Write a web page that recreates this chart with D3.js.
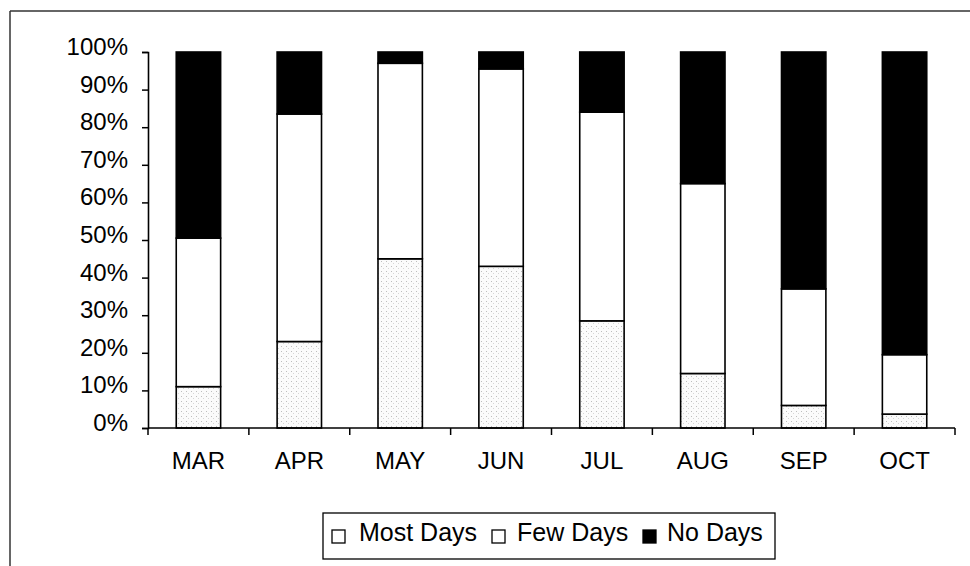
<!DOCTYPE html>
<html><head><meta charset="utf-8">
<script src="https://cdn.jsdelivr.net/npm/d3@7"></script>
<style>body{margin:0;background:#fff}svg{display:block}text{font-family:"Liberation Sans",Arial,sans-serif;fill:#000}</style>
</head><body><svg id="c" width="970" height="566"></svg>
<script>
const months = ["MAR","APR","MAY","JUN","JUL","AUG","SEP","OCT"];
const seriesNames = ["Most Days","Few Days","No Days"];
const mostDays = [11, 23, 45, 43, 28.5, 14.5, 6, 3.7];
const fewDays  = [39.5, 60.5, 52, 52.5, 55.5, 50.5, 31, 15.8];
const noDays   = [49.5, 16.5, 3, 4.5, 16, 35, 63, 80.5];
const yTicks = [0,10,20,30,40,50,60,70,80,90,100];

const svg = d3.select("#c");
const defs = svg.append("defs");
const pat = defs.append("pattern").attr("id","stip").attr("patternUnits","userSpaceOnUse").attr("width",5).attr("height",5);
pat.append("rect").attr("width",5).attr("height",5).attr("fill","#fbfbfb");
pat.append("rect").attr("x",1).attr("y",1).attr("width",1).attr("height",1).attr("fill","#bdbdbd");
pat.append("rect").attr("x",3).attr("y",3).attr("width",1).attr("height",1).attr("fill","#d6d6d6");

// frame (top and left edges)
svg.append("line").attr("x1",10).attr("x2",970).attr("y1",11).attr("y2",11).attr("stroke","#333").attr("stroke-width",1.5);
svg.append("line").attr("x1",10).attr("x2",10).attr("y1",11).attr("y2",566).attr("stroke","#333").attr("stroke-width",1.5);

const x = d3.scaleBand().domain(months).range([148,955]).paddingInner(0.56).paddingOuter(0.28);
const y = d3.scaleLinear().domain([0,100]).range([428,52]);

const data = months.map((m,i)=>({month:m,"Most Days":mostDays[i],"Few Days":fewDays[i],"No Days":noDays[i]}));
const stack = d3.stack().keys(seriesNames)(data);
const fills = {"Most Days":"url(#stip)","Few Days":"#fff","No Days":"#000"};

svg.append("g").selectAll("g").data(stack).join("g")
  .attr("fill",d=>fills[d.key])
  .selectAll("rect").data(d=>d).join("rect")
  .attr("x",d=>x(d.data.month)).attr("width",x.bandwidth())
  .attr("y",d=>y(Math.min(100,d[1]))).attr("height",d=>y(d[0])-y(Math.min(100,d[1])))
  .attr("stroke","#000").attr("stroke-width",1.6);

// y axis
const yAxis = svg.append("g").attr("transform","translate(148,0)")
  .call(d3.axisLeft(y).tickValues(yTicks).tickFormat(d=>d+"%").tickSize(6).tickPadding(14));
yAxis.select(".domain").attr("stroke","#000").attr("stroke-width",1.6);
yAxis.selectAll(".tick line").attr("stroke","#000").attr("stroke-width",1.5);
yAxis.selectAll("text").style("font-size","24px").attr("y",-6).attr("dy","0.35em");

// x axis with ticks at band boundaries
const xg = svg.append("g").attr("transform","translate(0,428)");
xg.append("line").attr("x1",148).attr("x2",955).attr("stroke","#000").attr("stroke-width",1.6);
xg.selectAll("line.t").data(months).join("line").attr("class","t")
  .attr("x1",d=>x(d)+x.bandwidth()/2 + x.step()/2).attr("x2",d=>x(d)+x.bandwidth()/2 + x.step()/2)
  .attr("y1",0).attr("y2",7).attr("stroke","#000").attr("stroke-width",1.5);
xg.append("line").attr("x1",148).attr("x2",148).attr("y1",0).attr("y2",7).attr("stroke","#000").attr("stroke-width",1.5);
xg.selectAll("text").data(months).join("text")
  .attr("x",d=>x(d)+x.bandwidth()/2).attr("y",41).attr("text-anchor","middle")
  .style("font-size","24px").text(d=>d);

// legend
const lg = svg.append("g");
lg.append("rect").attr("x",323).attr("y",513).attr("width",452).attr("height",46).attr("fill","#fff").attr("stroke","#000").attr("stroke-width",1.3);
const legendItems = [
  {name:seriesNames[0], sx:332, tx:359, fill:"#fff"},
  {name:seriesNames[1], sx:492, tx:517, fill:"#fff"},
  {name:seriesNames[2], sx:643, tx:667, fill:"#000"}
];
legendItems.forEach(it=>{
  lg.append("rect").attr("x",it.sx).attr("y",530).attr("width",13).attr("height",13).attr("fill",it.fill).attr("stroke","#000").attr("stroke-width",1.3);
  lg.append("text").attr("x",it.tx).attr("y",541).style("font-size","25px").text(it.name);
});
</script></body></html>
